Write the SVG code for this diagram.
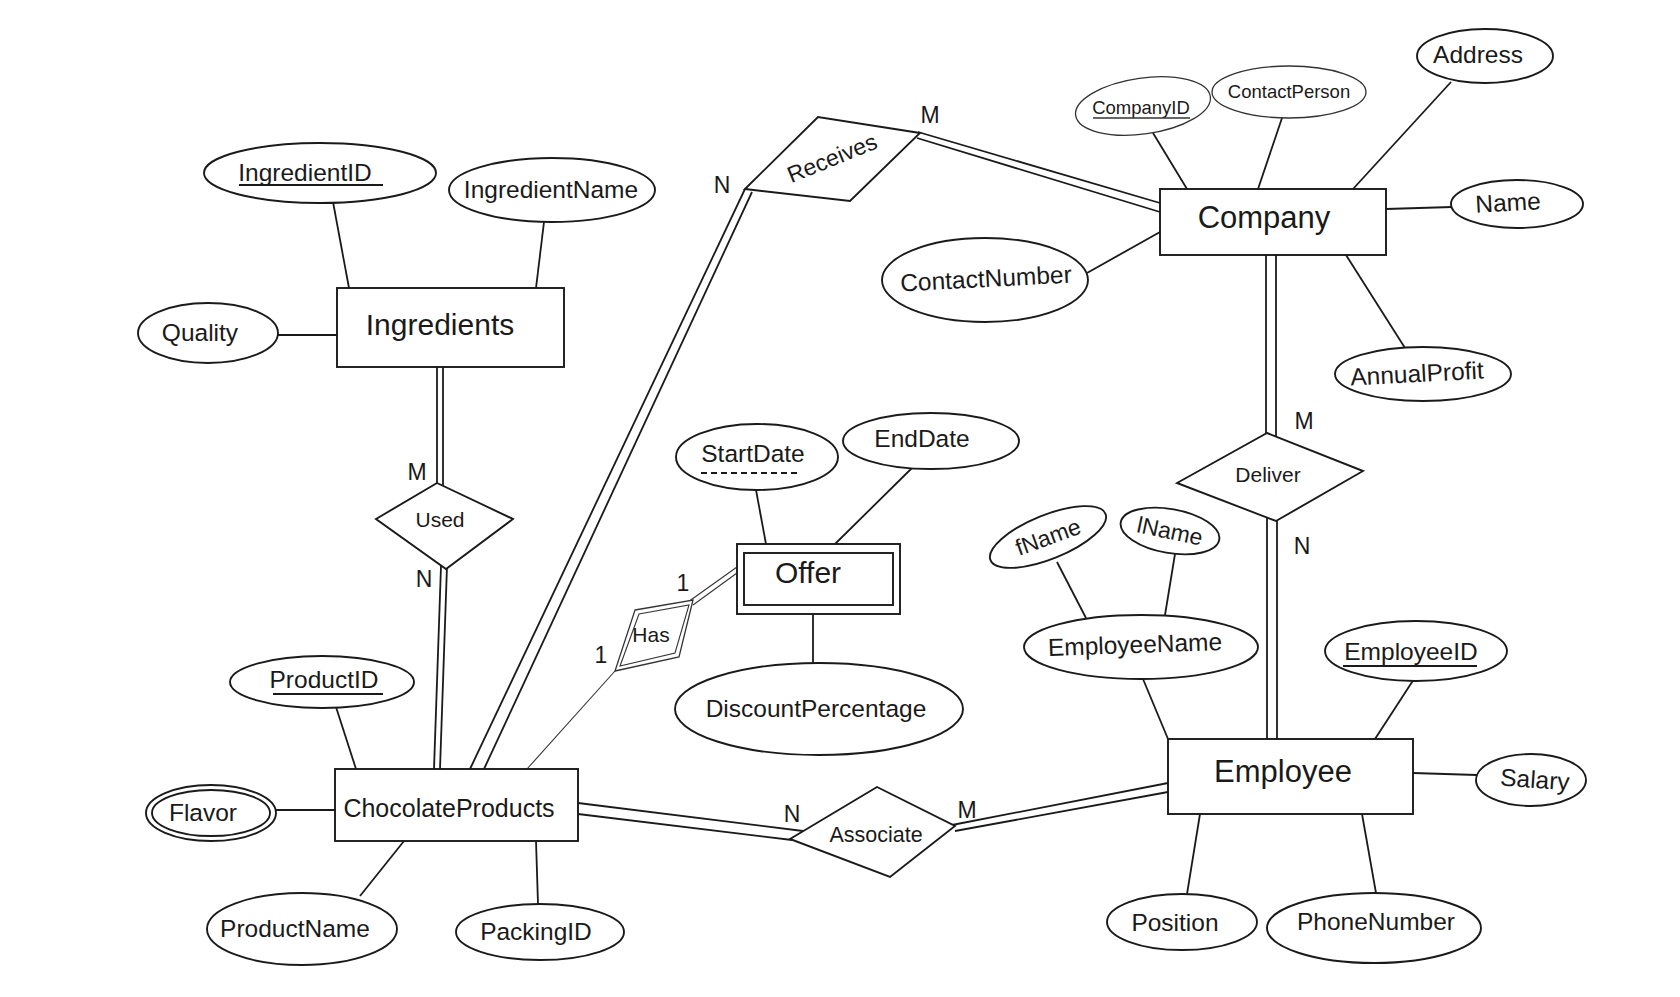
<svg xmlns="http://www.w3.org/2000/svg" width="1680" height="997" viewBox="0 0 1680 997">
<style>
text{font-family:"Liberation Sans",Arial,Helvetica,sans-serif;fill:#1a1a1a;text-anchor:middle}
.ent{font-size:30px}
.att{font-size:24.5px}
.rel{font-size:21px}
.card{font-size:23px}
.sm{font-size:18.5px}
.shape{fill:#fff;stroke:#1a1a1a;stroke-width:1.9}
.thin{fill:#fff;stroke:#333;stroke-width:1.3}
.ln{stroke:#1a1a1a;stroke-width:1.8;fill:none}
.tl{stroke:#333;stroke-width:1.1;fill:none}
.ul{stroke:#1a1a1a;stroke-width:1.8}
</style>
<rect width="1680" height="997" fill="#fff"/>
<g id="connectors">
<line class="ln" x1="333" y1="202" x2="349" y2="288"/>
<line class="ln" x1="544" y1="222" x2="536" y2="288"/>
<line class="ln" x1="278" y1="335" x2="337" y2="335"/>
<line class="ln" x1="437" y1="367" x2="437" y2="485"/>
<line class="ln" x1="443" y1="367" x2="443" y2="488"/>
<line class="ln" x1="441" y1="566" x2="434" y2="769"/>
<line class="ln" x1="447" y1="566" x2="440" y2="769"/>
<line class="ln" x1="745" y1="189" x2="470" y2="769"/>
<line class="ln" x1="752" y1="192" x2="484" y2="769"/>
<line class="ln" x1="918" y1="132" x2="1160" y2="203"/>
<line class="ln" x1="917" y1="138" x2="1160" y2="212"/>
<line class="ln" x1="1153" y1="133" x2="1187" y2="189"/>
<line class="ln" x1="1282" y1="118" x2="1258" y2="189"/>
<line class="ln" x1="1451" y1="82" x2="1353" y2="189"/>
<line class="ln" x1="1386" y1="209" x2="1452" y2="207"/>
<line class="ln" x1="1087" y1="273" x2="1160" y2="232"/>
<line class="ln" x1="1346" y1="255" x2="1405" y2="348"/>
<line class="ln" x1="1266" y1="255" x2="1266" y2="436"/>
<line class="ln" x1="1276" y1="255" x2="1276" y2="440"/>
<line class="ln" x1="1267" y1="517" x2="1267" y2="739"/>
<line class="ln" x1="1277" y1="519" x2="1277" y2="739"/>
<line class="ln" x1="756" y1="490" x2="766" y2="544"/>
<line class="ln" x1="912" y1="468" x2="835" y2="544"/>
<line class="ln" x1="813" y1="614" x2="813" y2="663"/>
<line class="tl" x1="688" y1="602" x2="737" y2="567"/>
<line class="tl" x1="693" y1="605" x2="737" y2="573"/>
<line class="tl" x1="615" y1="671" x2="527" y2="769"/>
<line class="ln" x1="1057" y1="562" x2="1086" y2="618"/>
<line class="ln" x1="1175" y1="554" x2="1165" y2="615"/>
<line class="ln" x1="1143" y1="679" x2="1168" y2="739"/>
<line class="ln" x1="1414" y1="679" x2="1375" y2="739"/>
<line class="ln" x1="1413" y1="773" x2="1477" y2="775"/>
<line class="ln" x1="1200" y1="814" x2="1187" y2="894"/>
<line class="ln" x1="1362" y1="814" x2="1376" y2="893"/>
<line class="ln" x1="336" y1="707" x2="356" y2="769"/>
<line class="ln" x1="276" y1="810" x2="335" y2="810"/>
<line class="ln" x1="404" y1="841" x2="360" y2="896"/>
<line class="ln" x1="536" y1="841" x2="538" y2="904"/>
<line class="ln" x1="578" y1="803" x2="803" y2="831"/>
<line class="ln" x1="578" y1="814" x2="792" y2="840"/>
<line class="ln" x1="952" y1="825" x2="1168" y2="783"/>
<line class="ln" x1="955" y1="831" x2="1168" y2="792"/>
</g>
<g id="Ingredients"><rect class="shape" x="337" y="288" width="227" height="79"/><text class="ent" x="440" y="335">Ingredients</text></g>
<g id="IngredientID"><ellipse class="shape" cx="320" cy="173" rx="116" ry="30"/><text class="att" x="305" y="181">IngredientID</text><line class="ul" x1="239" y1="185" x2="383" y2="185"/></g>
<g id="IngredientName"><ellipse class="shape" cx="552" cy="190" rx="103" ry="32"/><text class="att" x="551" y="198">IngredientName</text></g>
<g id="Quality"><ellipse class="shape" cx="208" cy="333" rx="70" ry="30"/><text class="att" x="200" y="341">Quality</text></g>
<g id="Used"><polygon class="shape" points="437,483 513,519 446,569 376,519"/><text class="rel" x="440" y="527">Used</text></g>
<g id="Receives"><polygon class="shape" points="745,189 818,117 920,133 850,201"/><text class="rel" x="832" y="166" transform="rotate(-22 832 158)" style="font-size:23px">Receives</text></g>
<g id="Company"><rect class="shape" x="1160" y="189" width="226" height="66"/><text class="ent" x="1264" y="228" style="font-size:31px">Company</text></g>
<g id="CompanyID"><ellipse class="thin" cx="1143" cy="106" rx="68" ry="28" transform="rotate(-8 1143 106)"/><text class="sm" x="1141" y="114">CompanyID</text><line stroke="#333" stroke-width="1.5" x1="1093" y1="118" x2="1190" y2="118"/></g>
<g id="ContactPerson"><ellipse class="thin" cx="1289" cy="92" rx="77" ry="26"/><text class="sm" x="1289" y="98">ContactPerson</text></g>
<g id="Address"><ellipse class="shape" cx="1485" cy="56" rx="68" ry="27"/><text class="att" x="1478" y="63">Address</text></g>
<g id="Name"><ellipse class="shape" cx="1517" cy="204" rx="66" ry="24"/><text class="att" x="1508" y="211" transform="rotate(-3 1508 204)">Name</text></g>
<g id="ContactNumber"><ellipse class="shape" cx="985" cy="280" rx="103" ry="42"/><text class="att" x="986" y="287" transform="rotate(-3 986 280)">ContactNumber</text></g>
<g id="AnnualProfit"><ellipse class="shape" cx="1423" cy="374" rx="88" ry="27"/><text class="att" x="1417" y="382" transform="rotate(-3 1417 374)">AnnualProfit</text></g>
<g id="Deliver"><polygon class="shape" points="1267,433 1363,471 1276,521 1177,483"/><text class="rel" x="1268" y="482">Deliver</text></g>
<g id="StartDate"><ellipse class="shape" cx="757" cy="457" rx="81" ry="33"/><text class="att" x="753" y="462">StartDate</text><line class="ul" stroke-dasharray="6,4" x1="701" y1="473" x2="800" y2="473"/></g>
<g id="EndDate"><ellipse class="shape" cx="931" cy="441" rx="88" ry="28"/><text class="att" x="922" y="447">EndDate</text></g>
<g id="Offer"><rect class="shape" x="737" y="544" width="163" height="70"/><rect class="shape" x="744" y="553" width="149" height="52"/><text class="ent" x="808" y="583">Offer</text></g>
<g id="DiscountPercentage"><ellipse class="shape" cx="819" cy="709" rx="144" ry="46"/><text class="att" x="816" y="717">DiscountPercentage</text></g>
<g id="Has"><polygon class="thin" points="635,610 693,600 679,657 615,671"/><polygon fill="none" stroke="#333" stroke-width="1.1" points="639,614 689,605 675,653 620,666"/><text class="rel" x="651" y="642">Has</text></g>
<g id="ChocolateProducts"><rect class="shape" x="335" y="769" width="243" height="72"/><text class="ent" x="449" y="817" style="font-size:25px">ChocolateProducts</text></g>
<g id="ProductID"><ellipse class="shape" cx="322" cy="682" rx="92" ry="26"/><text class="att" x="324" y="688">ProductID</text><line class="ul" x1="273" y1="694" x2="383" y2="694"/></g>
<g id="Flavor"><ellipse class="shape" cx="211" cy="813" rx="65" ry="28"/><ellipse class="shape" cx="211" cy="813" rx="59" ry="23"/><text class="att" x="203" y="821">Flavor</text></g>
<g id="ProductName"><ellipse class="shape" cx="302" cy="929" rx="95" ry="36"/><text class="att" x="295" y="937">ProductName</text></g>
<g id="PackingID"><ellipse class="shape" cx="540" cy="932" rx="84" ry="28"/><text class="att" x="536" y="940">PackingID</text></g>
<g id="Associate"><polygon class="shape" points="790,839 877,787 955,826 890,877"/><text class="rel" x="876" y="842" style="font-size:21.5px">Associate</text></g>
<g id="Employee"><rect class="shape" x="1168" y="739" width="245" height="75"/><text class="ent" x="1283" y="782" style="font-size:31px">Employee</text></g>
<g id="fName"><ellipse class="shape" cx="1048" cy="537" rx="62" ry="22" transform="rotate(-22 1048 537)"/><text class="att" x="1048" y="545" transform="rotate(-20 1048 537)" style="font-size:23px">fName</text></g>
<g id="lName"><ellipse class="shape" cx="1170" cy="531" rx="50" ry="22" transform="rotate(10 1170 531)"/><text class="att" x="1170" y="539" transform="rotate(12 1170 531)" style="font-size:23px">lName</text></g>
<g id="EmployeeName"><ellipse class="shape" cx="1141" cy="647" rx="117" ry="32"/><text class="att" x="1135" y="653" transform="rotate(-2 1135 645)">EmployeeName</text></g>
<g id="EmployeeID"><ellipse class="shape" cx="1416" cy="651" rx="91" ry="30"/><text class="att" x="1411" y="660">EmployeeID</text><line class="ul" x1="1343" y1="666" x2="1477" y2="666"/></g>
<g id="Salary"><ellipse class="shape" cx="1531" cy="780" rx="55" ry="26"/><text class="att" x="1535" y="788" transform="rotate(4 1535 780)">Salary</text></g>
<g id="Position"><ellipse class="shape" cx="1182" cy="922" rx="75" ry="28"/><text class="att" x="1175" y="931">Position</text></g>
<g id="PhoneNumber"><ellipse class="shape" cx="1374" cy="928" rx="107" ry="35"/><text class="att" x="1376" y="930">PhoneNumber</text></g>
<g id="cardinalities">
<text class="card" x="417" y="480">M</text>
<text class="card" x="424" y="587">N</text>
<text class="card" x="722" y="193">N</text>
<text class="card" x="930" y="123">M</text>
<text class="card" x="1304" y="429">M</text>
<text class="card" x="1302" y="554">N</text>
<text class="card" x="792" y="822">N</text>
<text class="card" x="967" y="818">M</text>
<text class="card" x="683" y="591">1</text>
<text class="card" x="601" y="663">1</text>
</g>
</svg>
